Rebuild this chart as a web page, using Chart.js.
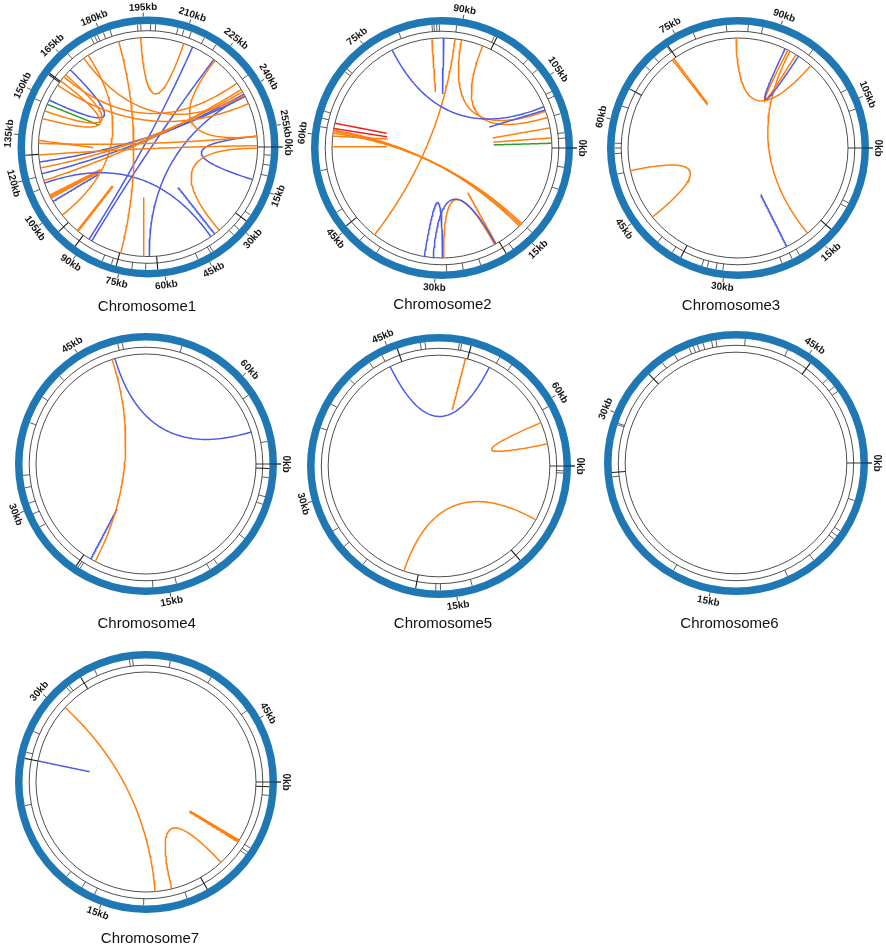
<!DOCTYPE html>
<html><head><meta charset="utf-8">
<script src="https://cdn.jsdelivr.net/npm/chart.js@4.4.0/dist/chart.umd.min.js"></script>
<style>
body{margin:0;background:#fff;width:886px;height:949px;position:relative;overflow:hidden;font-family:"Liberation Sans",Arial,sans-serif}
.wrap{position:absolute;width:340px;height:340px}
.ttl{position:absolute;width:200px;margin-left:-100px;text-align:center;font-size:15px;line-height:18px;color:#111;font-family:"Liberation Sans",Arial,sans-serif}
</style></head><body>
<script>
// ---------------- DATA ----------------
const chromNames = ["Chromosome1","Chromosome2","Chromosome3","Chromosome4","Chromosome5","Chromosome6","Chromosome7"];
const chromLengthKb = [262, 116, 112, 68, 65.7, 53.3, 49];
const tickStepKb = 15;

// gene marks (kb)
const genes1 = [192.9,194,197.4,199.1,176.5,177.8,178.8,181,183.4,166.9,206.8,208.9,211.5,216.4,221,236,147.8,120,115.4,81.4,78.1,71,66.3,48,43.2,42.3,33.3,30.7,24.4,2.8,6.2,9.9];
const bold1  = [157.3,157.8,128.2,99.4,91.9,76.4,62.2,26.9];
const genes2 = [85.5,85.8,86.2,86.6,89.2,95.1,101.2,103.3,107.2,108,110.8,113.7,114.5,2.9,6.3,13.9,17.7,23.1,25.8,28.3,39.3,42.4,47.9,54.6,61.2,62.5,63.6,70.3,70.8,80.4];
const bold2  = [95.5,18.9,45.4];
const genes3 = [82.3,85.5,87.6,77.4,73.1,70.7,68.9,62.2,56.7,56,55.2,52.2,40.6,38,33.3,32.5,31.2,30.2,21.5,19.9,18.7,8.9,8.2,106.3,103.2,95.6];
const bold3  = [73.3,64.9,36.6,12.8];
const genes4 = [48.5,48.9,54.2,61.6,66,1.2,2.9,3.6,7,10.3,11.1,14.3,16.4,23.1,23.3,28.2,29.5,30.5,31.9,33,37.7,40.2,42.6];
const bold4  = [0.4,23.5];
const genes5 = [47.7,48.1,51,51.2,54.6,55.8,60.5,0.4,0.6,13.6,16.3,16.7,23.3,25.5,27.1,36.1,38.3,40.9,43.1,44.3];
const bold5  = [52,9,18.4,45.7];
const genes6 = [36.7,37,37.3,37.7,38.3,38.6,40.6,43.6,47,47.7,48.1,2.6,4.9,5.3,5.6,7.6,9.7,17.8,25.7,29.3,29.4,34.6,35.6];
const bold6  = [45.4,26,33.4];
const genes7 = [35.7,35.9,38.3,41.1,44.2,0.85,4.4,4.7,4.9,9.6,12.4,15.6,16.5,17.7,23,26.4,27.8,31.3,31.5,33.4];
const bold7  = [0.3,8.2,26,32.4];

// links: [startKb, endKb, endRadiusFraction (1 = on circle), type]
const links1 = [
  [193.7,210.4,1,"O"],[185.2,76,1,"O"],[170.4,241.5,1,"O"],[156,245,1,"O"],[160,236,1,"O"],
  [172.4,103,1,"O"],[132.4,257.9,1,"O"],[127.9,261.5,1,"O"],[145,161,1,"O"],[142,158,1,"O"],
  [224,258,1,"O"],[123,240,1,"O"],[118,239,1,"O"],[0.5,36,1,"O"],
  [149.5,163.6,1,"B"],[214,89.2,1,"B"],[223.4,88,1,"B"],[120.7,241,1,"B"],[125.3,242,1,"B"],
  [241.5,65,1,"B"],[257.9,12.6,1,"B"],[117,40,1,"B"],
  [110.8,111.4,0.48,"O"],[111.4,112,0.48,"O"],[112,112.6,0.48,"O"],
  [94.4,96,0.48,"O"],[94.8,96.4,0.48,"O"],[67.2,68.9,0.46,"O"],[133.5,130.5,0.5,"O"],
  [38.2,38.8,0.46,"B"],[109.3,110,0.52,"B"],[147.7,148.5,0.5,"G"]
];
const links2 = [
  [78.3,108.9,1,"B"],[109.5,108.3,0.47,"B"],[85.3,84.9,0.51,"O"],[87.3,87.1,0.49,"B"],
  [89.2,41.2,1,"O"],[90.3,109.7,1,"O"],[94,110.8,1,"O"],
  [112.6,112.4,0.47,"O"],[114.3,113.9,0.47,"O"],[115.2,114.9,0.47,"G"],
  [62.2,62.8,0.52,"R"],[61.3,61.7,0.51,"R"],
  [60.5,14,1,"O"],[60.8,14.3,1,"O"],[61,14.6,1,"O"],[58.2,58.4,0.5,"O"],[60,61,0.5,"O"],
  [32,28.9,1,"B"],[30.5,19.6,1,"B"],[28.7,19.8,1,"O"],[19.5,19.3,0.47,"O"]
];
const links3 = [
  [72.6,73,0.49,"O"],[72.9,73.3,0.49,"O"],[83.7,96.9,1,"O"],[91.9,94.4,1,"B"],
  [92.4,93.9,1,"O"],[92.8,15.8,1,"O"],[52.3,43.9,1,"O"],[19.8,19.9,0.47,"B"]
];
const links4 = [[47.6,22.2,1,"O"],[47.9,64.8,1,"B"],[22.7,23.2,0.49,"B"]];
const links5 = [[44.5,54.2,1,"B"],[51.8,51.7,0.52,"O"],[61.5,63.6,1,"O"],[19.8,5.3,1,"O"]];
const links6 = [];
const links7 = [
  [30.3,11.6,1,"O"],[26.0,25.9,0.52,"B"],[10.4,6.4,1,"O"],
  [4.4,4.6,0.48,"O"],[4.5,4.7,0.48,"O"],[4.35,4.55,0.48,"O"]
];

// ---------------- LAYOUT / STYLE ----------------
const layout = [
  {cx:147.5,cy:147,R:130.5,tx:147,ty:297},
  {cx:442,cy:148,R:131,tx:442.5,ty:295},
  {cx:737.5,cy:147.5,R:131,tx:731,ty:296},
  {cx:146,cy:464,R:131,tx:146.7,ty:614},
  {cx:439,cy:466,R:132,tx:443,ty:614},
  {cx:736,cy:463,R:132,tx:729.5,ty:614},
  {cx:146,cy:782,R:131,tx:150,ty:929}
];
const linkColor = {O:"#ff7f0e",B:"#4c5be6",G:"#2ca02c",R:"#ee1c25"};
const ringBlue = "#1f78b4";
const allGenes = [genes1,genes2,genes3,genes4,genes5,genes6,genes7];
const allBold = [bold1,bold2,bold3,bold4,bold5,bold6,bold7];
const allLinks = [links1,links2,links3,links4,links5,links6,links7];

const SIZE = 340;
// radii relative to outer blue radius 131
const REL = {inner:110, mid:116.8, blueIn:123.5, blueOut:131, tickOut:135, label:140};

function linkPoints(l, total){
  const a1 = l[0]/total*2*Math.PI, a2 = l[1]/total*2*Math.PI, f = l[2];
  const p0 = [Math.cos(a1), -Math.sin(a1)];
  const p2 = [f*Math.cos(a2), -f*Math.sin(a2)];
  const c = f >= 1 ? [0,0] : [(p0[0]+p2[0])/2,(p0[1]+p2[1])/2];
  const pts = [];
  const N = 60;
  for(let i=0;i<=N;i++){
    const t=i/N, u=1-t;
    pts.push({x:u*u*p0[0]+2*t*u*c[0]+t*t*p2[0], y:u*u*p0[1]+2*t*u*c[1]+t*t*p2[1]});
  }
  return pts;
}

const ringPlugin = {
  id:'ring',
  beforeDatasetsDraw(chart, args, opts){
    const ctx = chart.ctx;
    const xs = chart.scales.x, ys = chart.scales.y;
    const cx = xs.getPixelForValue(0), cy = ys.getPixelForValue(0);
    const unit = xs.getPixelForValue(1) - cx; // px per inner radius
    const k = unit/REL.inner;
    const total = opts.total;
    const rad = kb => kb/total*2*Math.PI;
    ctx.save();
    ctx.strokeStyle = "#3a3a3a"; ctx.lineWidth = 0.9;
    [REL.inner, REL.mid].forEach(r=>{ctx.beginPath();ctx.arc(cx,cy,r*k,0,2*Math.PI);ctx.stroke();});
    const seg = (kb, r1, r2, w, col)=>{
      const a = rad(kb);
      ctx.strokeStyle = col; ctx.lineWidth = w;
      ctx.beginPath();
      ctx.moveTo(cx+Math.cos(a)*r1*k, cy+Math.sin(a)*r1*k);
      ctx.lineTo(cx+Math.cos(a)*r2*k, cy+Math.sin(a)*r2*k);
      ctx.stroke();
    };
    opts.genes.forEach(g=>seg(g, REL.mid, REL.blueIn, 0.8, "#333"));
    opts.bold.forEach(g=>seg(g, REL.inner, REL.blueIn, 1.1, "#1a1a1a"));
    ctx.strokeStyle = ringBlue; ctx.lineWidth = (REL.blueOut-REL.blueIn)*k;
    ctx.beginPath(); ctx.arc(cx,cy,(REL.blueOut+REL.blueIn)/2*k,0,2*Math.PI); ctx.stroke();
    seg(0, REL.inner, REL.tickOut, 0.9, "#222");
    ctx.fillStyle = "#151515";
    ctx.font = "bold 10px 'Liberation Sans', Arial, sans-serif";
    ctx.textAlign = "center"; ctx.textBaseline = "middle";
    for(let kb=0; kb < total - 1; kb += tickStepKb){
      seg(kb, REL.blueOut, REL.tickOut, 0.8, "#222");
      const a = rad(kb);
      const deg = a*180/Math.PI;
      let rot = (deg + 90) % 360;
      if(rot > 90 && rot < 270) rot -= 180;
      ctx.save();
      ctx.translate(cx+Math.cos(a)*REL.label*k, cy+Math.sin(a)*REL.label*k);
      ctx.rotate(rot*Math.PI/180);
      ctx.fillText(kb+"kb", 0, 0);
      ctx.restore();
    }
    ctx.restore();
  }
};

layout.forEach((L, i)=>{
  const w = document.createElement('div');
  w.className='wrap';
  w.style.left=(L.cx-SIZE/2)+'px'; w.style.top=(L.cy-SIZE/2)+'px';
  const cv = document.createElement('canvas');
  cv.width=SIZE; cv.height=SIZE;
  w.appendChild(cv); document.body.appendChild(w);
  const t = document.createElement('div');
  t.className='ttl'; t.textContent=chromNames[i];
  t.style.left=L.tx+'px'; t.style.top=L.ty+'px';
  document.body.appendChild(t);

  const innerPx = L.R*REL.inner/REL.blueOut;
  const S = (SIZE/2)/innerPx;
  const total = chromLengthKb[i];
  const datasets = allLinks[i].map(l=>({
    data: linkPoints(l,total), showLine:true, borderColor: linkColor[l[3]],
    borderWidth:1.5, pointRadius:0, fill:false, tension:0
  }));
  new Chart(cv, {
    type:'scatter',
    data:{datasets},
    options:{
      responsive:false, animation:false, devicePixelRatio:1,
      layout:{padding:0},
      events:[],
      scales:{x:{type:'linear',min:-S,max:S,display:false},y:{type:'linear',min:-S,max:S,display:false}},
      plugins:{legend:{display:false},tooltip:{enabled:false},title:{display:false},
        ring:{total, genes:allGenes[i], bold:allBold[i]}}
    },
    plugins:[ringPlugin]
  });
});
</script>
</body></html>
